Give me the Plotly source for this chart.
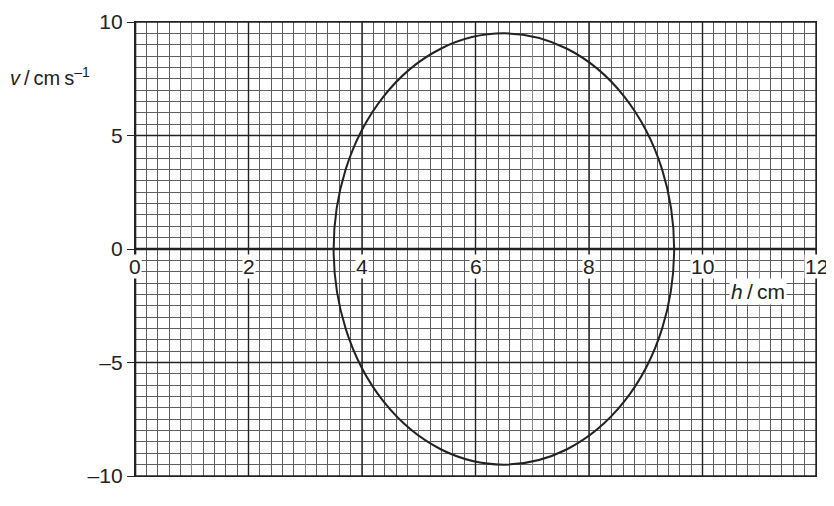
import plotly.graph_objects as go

# axis values
h_ticks = [0, 2, 4, 6, 8, 10, 12]
h_labels = ['0', '2', '4', '6', '8', '10', '12']
v_ticks = [10, 5, 0, -5, -10]
v_labels = ['10', '5', '0', '\u20135', '\u201310']

# ellipse limits (h in cm, v in cm/s)
h_min, h_max = 3.5, 9.5
v_min, v_max = -9.5, 9.5

font = dict(family = 'Liberation Sans, Arial, sans-serif', size = 21, color = '#222')
dark = '#222'

fig = go.Figure()
fig.add_trace(go.Scatter(x = [], y = [], showlegend = False))

# heavy grid lines every 2 cm across, every 5 cm/s up
for h in h_ticks:
	fig.add_shape(type = 'line', xref = 'x', yref = 'y',
		x0 = h, x1 = h, y0 = v_ticks[-1], y1 = v_ticks[0],
		line = dict(color = dark, width = 1.4))
for v in v_ticks:
	fig.add_shape(type = 'line', xref = 'x', yref = 'y',
		x0 = h_ticks[0], x1 = h_ticks[-1], y0 = v, y1 = v,
		line = dict(color = dark, width = 1.4))

# axes through the origin
fig.add_shape(type = 'line', xref = 'x', yref = 'y',
	x0 = h_ticks[0], x1 = h_ticks[-1], y0 = 0, y1 = 0,
	line = dict(color = dark, width = 2.6))
fig.add_shape(type = 'line', xref = 'x', yref = 'y',
	x0 = 0, x1 = 0, y0 = v_ticks[-1], y1 = v_ticks[0],
	line = dict(color = dark, width = 2.6))

# the curve
fig.add_shape(type = 'circle', xref = 'x', yref = 'y',
	x0 = h_min, x1 = h_max, y0 = v_min, y1 = v_max,
	line = dict(color = dark, width = 2))

# h tick labels sit under the h axis on white patches
for h, lab in zip(h_ticks, h_labels):
	fig.add_annotation(x = h, y = 0, xref = 'x', yref = 'y', text = lab,
		showarrow = False, yanchor = 'top', yshift = -5,
		bgcolor = 'white', borderpad = 0, font = font)

fig.add_annotation(x = 10.97, y = -1.85, xref = 'x', yref = 'y',
	text = '<i>h</i>\u2009/\u2009cm', showarrow = False,
	bgcolor = 'white', borderpad = 1, font = font)
fig.add_annotation(x = -0.063, y = 0.881, xref = 'paper', yref = 'paper',
	xanchor = 'right', yanchor = 'middle',
	text = '<i>v</i>\u2009/\u2009cm\u2009s<sup>\u20131</sup>', showarrow = False,
	font = dict(family = font['family'], size = 20, color = '#222'))

fig.update_xaxes(
	range = [h_ticks[0], h_ticks[-1]], dtick = 1, automargin = False,
	showgrid = True, gridcolor = '#8a8a8a', gridwidth = 1.3,
	minor = dict(dtick = 0.2, showgrid = True, gridcolor = '#5e5e5e', gridwidth = 0.8),
	showticklabels = False, zeroline = False,
	showline = True, mirror = True, linecolor = dark, linewidth = 1.4,
	)
fig.update_yaxes(
	range = [v_ticks[-1], v_ticks[0]], automargin = False,
	tickvals = v_ticks, ticktext = v_labels,
	ticks = 'outside', ticklen = 7, tickcolor = dark, tickwidth = 1.4,
	tickfont = font, ticklabeloverflow = 'allow',
	showgrid = True, gridcolor = dark, gridwidth = 1.4,
	minor = dict(dtick = 0.5, showgrid = True, gridcolor = '#5e5e5e', gridwidth = 0.8),
	zeroline = False,
	showline = True, mirror = True, linecolor = dark, linewidth = 1.4,
	)

fig.update_layout(
	width = 826, height = 496,
	margin = dict(l = 127, r = 18, t = 14, b = 28),
	plot_bgcolor = 'white', paper_bgcolor = 'white',
	showlegend = False,
	)

fig.write_html('out.html')
